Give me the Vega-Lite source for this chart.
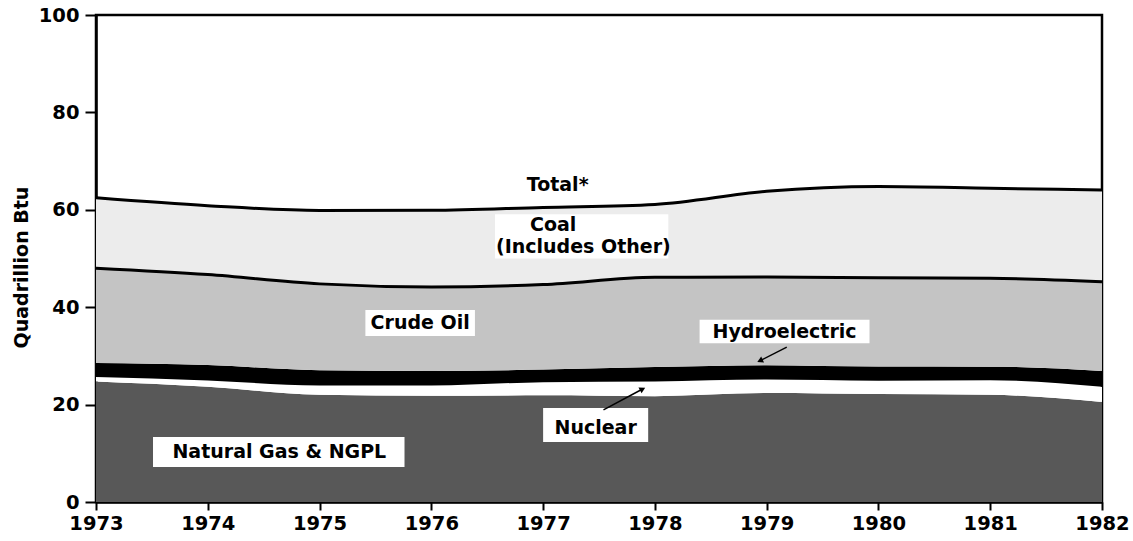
{
  "$schema": "https://vega.github.io/schema/vega-lite/v6.json",
  "width": 1006,
  "height": 487,
  "autosize": {"type": "none"},
  "padding": {"left": 96, "top": 15, "right": 31, "bottom": 39},
  "background": "white",
  "config": {
    "view": {"stroke": "black", "strokeWidth": 2.5},
    "font": "DejaVu Sans",
    "axis": {
      "grid": false,
      "domainColor": "black",
      "domainWidth": 2.5,
      "tickColor": "black",
      "tickWidth": 2,
      "labelColor": "black",
      "labelFont": "DejaVu Sans",
      "labelFontWeight": "bold",
      "labelFontSize": 19.5,
      "titleColor": "black",
      "titleFont": "DejaVu Sans",
      "titleFontWeight": "bold",
      "titleFontSize": 19
    }
  },
  "datasets": {
    "energy": [
      {"year": 1973, "source": "Natural Gas & NGPL", "rank": 1, "value": 24.76},
      {"year": 1974, "source": "Natural Gas & NGPL", "rank": 1, "value": 23.68},
      {"year": 1975, "source": "Natural Gas & NGPL", "rank": 1, "value": 22.01},
      {"year": 1976, "source": "Natural Gas & NGPL", "rank": 1, "value": 21.81},
      {"year": 1977, "source": "Natural Gas & NGPL", "rank": 1, "value": 21.90},
      {"year": 1978, "source": "Natural Gas & NGPL", "rank": 1, "value": 21.74},
      {"year": 1979, "source": "Natural Gas & NGPL", "rank": 1, "value": 22.37},
      {"year": 1980, "source": "Natural Gas & NGPL", "rank": 1, "value": 22.16},
      {"year": 1981, "source": "Natural Gas & NGPL", "rank": 1, "value": 22.01},
      {"year": 1982, "source": "Natural Gas & NGPL", "rank": 1, "value": 20.51},
      {"year": 1973, "source": "Nuclear", "rank": 2, "value": 0.91},
      {"year": 1974, "source": "Nuclear", "rank": 2, "value": 1.27},
      {"year": 1975, "source": "Nuclear", "rank": 2, "value": 1.90},
      {"year": 1976, "source": "Nuclear", "rank": 2, "value": 2.11},
      {"year": 1977, "source": "Nuclear", "rank": 2, "value": 2.70},
      {"year": 1978, "source": "Nuclear", "rank": 2, "value": 3.02},
      {"year": 1979, "source": "Nuclear", "rank": 2, "value": 2.78},
      {"year": 1980, "source": "Nuclear", "rank": 2, "value": 2.74},
      {"year": 1981, "source": "Nuclear", "rank": 2, "value": 3.01},
      {"year": 1982, "source": "Nuclear", "rank": 2, "value": 3.13},
      {"year": 1973, "source": "Hydroelectric", "rank": 3, "value": 2.86},
      {"year": 1974, "source": "Hydroelectric", "rank": 3, "value": 3.18},
      {"year": 1975, "source": "Hydroelectric", "rank": 3, "value": 3.15},
      {"year": 1976, "source": "Hydroelectric", "rank": 3, "value": 2.98},
      {"year": 1977, "source": "Hydroelectric", "rank": 3, "value": 2.60},
      {"year": 1978, "source": "Hydroelectric", "rank": 3, "value": 2.94},
      {"year": 1979, "source": "Hydroelectric", "rank": 3, "value": 2.93},
      {"year": 1980, "source": "Hydroelectric", "rank": 3, "value": 2.90},
      {"year": 1981, "source": "Hydroelectric", "rank": 3, "value": 2.76},
      {"year": 1982, "source": "Hydroelectric", "rank": 3, "value": 3.27},
      {"year": 1973, "source": "Crude Oil", "rank": 4, "value": 19.49},
      {"year": 1974, "source": "Crude Oil", "rank": 4, "value": 18.57},
      {"year": 1975, "source": "Crude Oil", "rank": 4, "value": 17.73},
      {"year": 1976, "source": "Crude Oil", "rank": 4, "value": 17.26},
      {"year": 1977, "source": "Crude Oil", "rank": 4, "value": 17.45},
      {"year": 1978, "source": "Crude Oil", "rank": 4, "value": 18.43},
      {"year": 1979, "source": "Crude Oil", "rank": 4, "value": 18.10},
      {"year": 1980, "source": "Crude Oil", "rank": 4, "value": 18.25},
      {"year": 1981, "source": "Crude Oil", "rank": 4, "value": 18.15},
      {"year": 1982, "source": "Crude Oil", "rank": 4, "value": 18.31},
      {"year": 1973, "source": "Coal", "rank": 5, "value": 14.44},
      {"year": 1974, "source": "Coal", "rank": 5, "value": 14.14},
      {"year": 1975, "source": "Coal", "rank": 5, "value": 15.07},
      {"year": 1976, "source": "Coal", "rank": 5, "value": 15.73},
      {"year": 1977, "source": "Coal", "rank": 5, "value": 15.84},
      {"year": 1978, "source": "Coal", "rank": 5, "value": 14.97},
      {"year": 1979, "source": "Coal", "rank": 5, "value": 17.62},
      {"year": 1980, "source": "Coal", "rank": 5, "value": 18.71},
      {"year": 1981, "source": "Coal", "rank": 5, "value": 18.49},
      {"year": 1982, "source": "Coal", "rank": 5, "value": 18.83}
    ],
    "bounds": [
      {"year": 1973, "crudeTop": 48.02, "total": 62.46},
      {"year": 1974, "crudeTop": 46.70, "total": 60.84},
      {"year": 1975, "crudeTop": 44.79, "total": 59.86},
      {"year": 1976, "crudeTop": 44.16, "total": 59.89},
      {"year": 1977, "crudeTop": 44.65, "total": 60.49},
      {"year": 1978, "crudeTop": 46.13, "total": 61.10},
      {"year": 1979, "crudeTop": 46.18, "total": 63.80},
      {"year": 1980, "crudeTop": 46.05, "total": 64.76},
      {"year": 1981, "crudeTop": 45.93, "total": 64.42},
      {"year": 1982, "crudeTop": 45.22, "total": 64.05}
    ],
    "boxes": [
      {"name": "coal", "x1": 1976.57, "x2": 1978.12, "y1": 59.1, "y2": 50.0},
      {"name": "crude", "x1": 1975.41, "x2": 1976.39, "y1": 39.4, "y2": 34.1},
      {"name": "hydro", "x1": 1978.40, "x2": 1979.92, "y1": 37.4, "y2": 32.6},
      {"name": "nuclear", "x1": 1977.0, "x2": 1977.94, "y1": 19.3, "y2": 12.3},
      {"name": "gas", "x1": 1973.51, "x2": 1975.76, "y1": 13.35, "y2": 7.19}
    ],
    "labels": [
      {"text": "Total*", "year": 1977.13, "v": 65.1},
      {"text": "Coal", "year": 1977.09, "v": 56.9},
      {"text": "(Includes Other)", "year": 1977.36, "v": 52.4},
      {"text": "Crude Oil", "year": 1975.90, "v": 36.8},
      {"text": "Hydroelectric", "year": 1979.16, "v": 34.9},
      {"text": "Nuclear", "year": 1977.47, "v": 15.2},
      {"text": "Natural Gas & NGPL", "year": 1974.64, "v": 10.27}
    ],
    "arrows": [
      {"name": "hydro", "x1": 1979.18, "y1": 31.8, "x2": 1978.94, "y2": 29.0},
      {"name": "nuclear", "x1": 1977.54, "y1": 18.9, "x2": 1977.89, "y2": 23.2}
    ]
  },
  "layer": [
    {
      "data": {"name": "energy"},
      "mark": {"type": "area", "interpolate": "monotone"},
      "encoding": {
        "x": {
          "field": "year",
          "type": "quantitative",
          "scale": {"domain": [1973, 1982], "nice": false, "zero": false},
          "axis": {
            "values": [1973, 1974, 1975, 1976, 1977, 1978, 1979, 1980, 1981, 1982],
            "format": "d",
            "title": null,
            "tickSize": 8,
            "labelPadding": 4,
            "labelFlush": false
          }
        },
        "y": {
          "field": "value",
          "type": "quantitative",
          "stack": "zero",
          "scale": {"domain": [0, 100], "nice": false},
          "axis": {
            "values": [0, 20, 40, 60, 80, 100],
            "title": "Quadrillion Btu",
            "tickSize": 11,
            "labelPadding": 6,
            "titleX": -75,
            "titleY": 252,
            "titleAngle": -90,
            "titleAlign": "center",
            "titleBaseline": "middle"
          }
        },
        "color": {
          "field": "source",
          "type": "nominal",
          "scale": {
            "domain": ["Natural Gas & NGPL", "Nuclear", "Hydroelectric", "Crude Oil", "Coal"],
            "range": ["#585858", "#ffffff", "#000000", "#c4c4c4", "#ececec"]
          },
          "legend": null
        },
        "order": {"field": "rank", "type": "quantitative"}
      }
    },
    {
      "data": {"name": "bounds"},
      "mark": {"type": "line", "interpolate": "monotone", "color": "black", "strokeWidth": 3},
      "encoding": {
        "x": {"field": "year", "type": "quantitative"},
        "y": {"field": "crudeTop", "type": "quantitative"}
      }
    },
    {
      "data": {"name": "bounds"},
      "mark": {"type": "line", "interpolate": "monotone", "color": "black", "strokeWidth": 3},
      "encoding": {
        "x": {"field": "year", "type": "quantitative"},
        "y": {"field": "total", "type": "quantitative"}
      }
    },
    {
      "data": {"name": "boxes"},
      "mark": {"type": "rect", "fill": "white"},
      "encoding": {
        "x": {"field": "x1", "type": "quantitative"},
        "x2": {"field": "x2"},
        "y": {"field": "y1", "type": "quantitative"},
        "y2": {"field": "y2"}
      }
    },
    {
      "data": {"name": "arrows"},
      "mark": {"type": "rule", "color": "black", "strokeWidth": 1.5},
      "encoding": {
        "x": {"field": "x1", "type": "quantitative"},
        "x2": {"field": "x2"},
        "y": {"field": "y1", "type": "quantitative"},
        "y2": {"field": "y2"}
      }
    },
    {
      "data": {"name": "arrows"},
      "transform": [{"filter": "datum.name === 'hydro'"}],
      "mark": {"type": "point", "shape": "triangle-up", "filled": true, "color": "black", "size": 45, "angle": 245, "opacity": 1},
      "encoding": {
        "x": {"field": "x2", "type": "quantitative"},
        "y": {"field": "y2", "type": "quantitative"}
      }
    },
    {
      "data": {"name": "arrows"},
      "transform": [{"filter": "datum.name === 'nuclear'"}],
      "mark": {"type": "point", "shape": "triangle-up", "filled": true, "color": "black", "size": 45, "angle": 62, "opacity": 1},
      "encoding": {
        "x": {"field": "x2", "type": "quantitative"},
        "y": {"field": "y2", "type": "quantitative"}
      }
    },
    {
      "data": {"name": "labels"},
      "mark": {"type": "text", "font": "DejaVu Sans", "fontWeight": "bold", "fontSize": 19, "align": "center", "baseline": "middle", "color": "black"},
      "encoding": {
        "x": {"field": "year", "type": "quantitative"},
        "y": {"field": "v", "type": "quantitative"},
        "text": {"field": "text"}
      }
    }
  ]
}
